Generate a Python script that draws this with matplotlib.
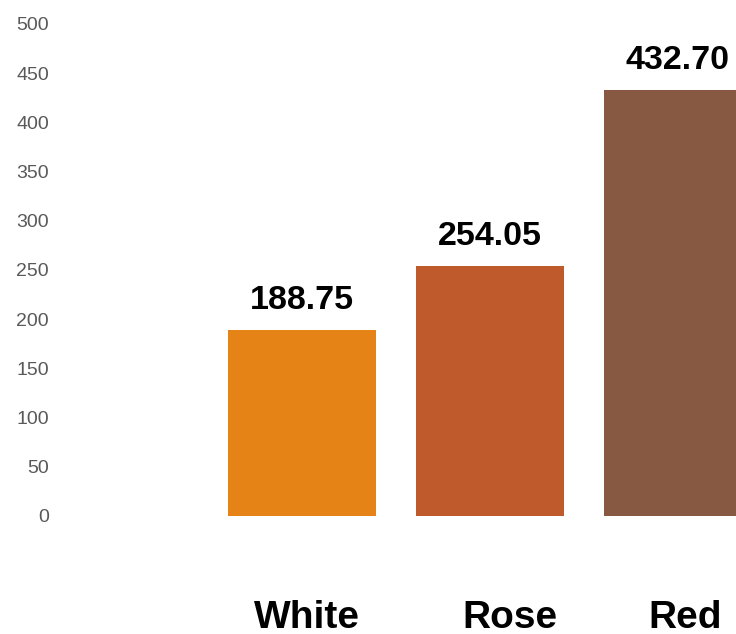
import matplotlib
matplotlib.use("Agg")
import matplotlib.pyplot as plt
from matplotlib.transforms import blended_transform_factory, offset_copy

plt.rcParams['font.family'] = ['Liberation Sans', 'DejaVu Sans']

categories = ["White", "Rose", "Red"]
values = [188.75, 254.05, 432.70]
colors = ["#E68316", "#BE5A2C", "#875943"]
y_ticks = [0, 50, 100, 150, 200, 250, 300, 350, 400, 450, 500]

W, H = 736, 634
fig = plt.figure(figsize=(W / 100, H / 100), dpi=100)
ax = fig.add_axes([60 / W, (H - 516) / H, 1 - 60 / W, (516 - 24) / H])

x = list(range(len(categories)))
bars = ax.bar(x, values, width=148 / 188, color=colors, zorder=2)

ax.set_ylim(0, 500)
ax.set_xlim(-(302 - 60) / 188, (736 - 302) / 188)
ax.set_yticks(y_ticks)
ax.set_yticklabels([str(t) for t in y_ticks], fontsize=14, color="#595959")
ax.tick_params(axis="y", length=0, pad=8)
ax.set_xticks([])
for s in ax.spines.values():
    s.set_visible(False)

# value labels above each bar
for xi, v in zip(x, values):
    ax.annotate(f"{v:.2f}", xy=(xi, v), xytext=(0, 15), textcoords="offset points",
                ha="center", va="baseline", fontsize=24.5, fontweight="bold", color="black")

# category labels near the bottom of the figure, nudged right a little
trans = blended_transform_factory(ax.transData, fig.transFigure)
nudge_px = [5, 20, 7]
for xi, c, dx in zip(x, categories, nudge_px):
    t = offset_copy(trans, fig=fig, x=dx * 0.72, y=0, units="points")
    ax.text(xi, (H - 628) / H, c, transform=t, ha="center", va="baseline",
            fontsize=28, fontweight="bold", color="black", clip_on=False)

fig.savefig("out.png", dpi=100)
